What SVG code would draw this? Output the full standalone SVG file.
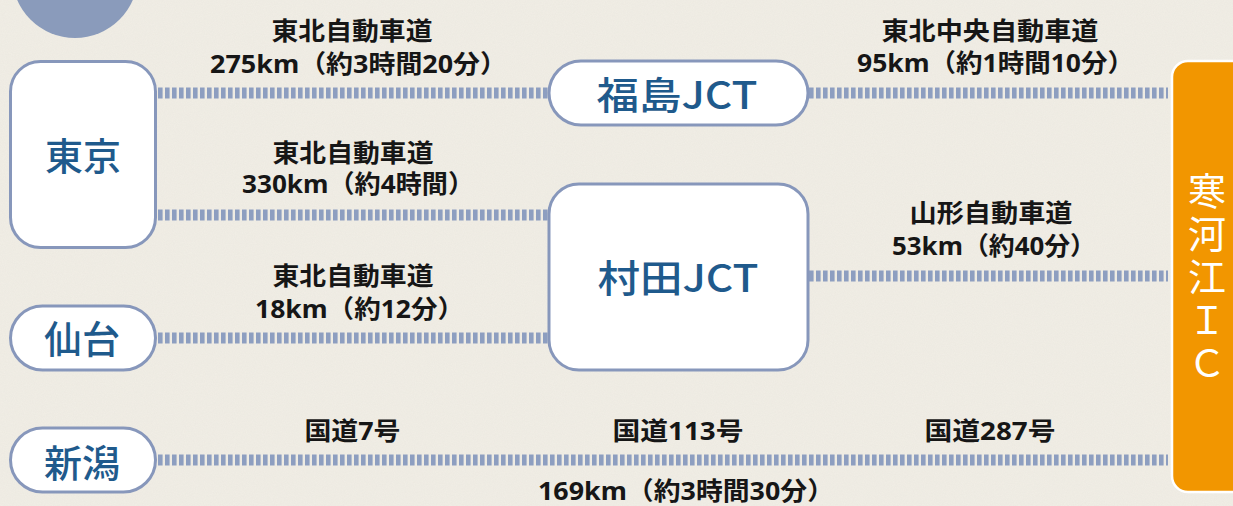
<svg xmlns="http://www.w3.org/2000/svg" width="1233" height="506" viewBox="0 0 1233 506">
  <defs>
    <style>
      .node{fill:#ffffff;stroke:#8797bb;stroke-width:3}
      .ntxt{font-family:"Noto Sans CJK JP","Noto Sans",sans-serif;font-weight:500;font-size:38px;fill:#1f5a8c;text-anchor:middle}
      .road{fill:none;stroke:#8d9ec0;stroke-width:11;stroke-dasharray:4.6 2.4}
      .lbl{font-family:"Noto Sans","Noto Sans CJK JP",sans-serif;font-weight:700;font-size:25px;fill:#161616;text-anchor:middle}
      .ic{font-family:"Noto Sans CJK JP","Liberation Sans",sans-serif;font-weight:400;font-size:38px;fill:#ffffff;writing-mode:vertical-rl;text-orientation:upright;letter-spacing:5px}
    </style>
    <filter id="paper" x="0" y="0" width="100%" height="100%">
      <feTurbulence type="fractalNoise" baseFrequency="0.9" numOctaves="2" seed="3" result="n"/>
      <feColorMatrix type="matrix" values="0 0 0 0 0.55  0 0 0 0 0.52  0 0 0 0 0.45  0 0 0 0.18 0"/>
    </filter>
  </defs>

  <g id="background">
    <rect x="0" y="0" width="1233" height="506" fill="#f1eee6"/>
    <rect x="0" y="0" width="1233" height="506" filter="url(#paper)" opacity="0.6"/>
    <circle cx="75" cy="-25" r="63" fill="#8a9bbb"/>
  </g>

  <g id="connectors">
    <line class="road" x1="158" y1="93" x2="548" y2="93"/>
    <line class="road" x1="809" y1="93" x2="1168" y2="93"/>
    <line class="road" x1="158" y1="215" x2="548" y2="215"/>
    <line class="road" x1="809" y1="276" x2="1168" y2="276"/>
    <line class="road" x1="158" y1="338" x2="548" y2="338"/>
    <line class="road" x1="158" y1="460" x2="1168" y2="460"/>
  </g>

  <g id="labels">
    <text class="lbl" x="352" y="40" textLength="161" lengthAdjust="spacingAndGlyphs">東北自動車道</text>
    <text class="lbl" x="358.5" y="73" textLength="297" lengthAdjust="spacingAndGlyphs">275km（約3時間20分）</text>
    <text class="lbl" x="990" y="40" textLength="217" lengthAdjust="spacingAndGlyphs">東北中央自動車道</text>
    <text class="lbl" x="995.5" y="72" textLength="277" lengthAdjust="spacingAndGlyphs">95km（約1時間10分）</text>
    <text class="lbl" x="353" y="162" textLength="161" lengthAdjust="spacingAndGlyphs">東北自動車道</text>
    <text class="lbl" x="358" y="193" textLength="232" lengthAdjust="spacingAndGlyphs">330km（約4時間）</text>
    <text class="lbl" x="991" y="222" textLength="163" lengthAdjust="spacingAndGlyphs">山形自動車道</text>
    <text class="lbl" x="994" y="255" textLength="204" lengthAdjust="spacingAndGlyphs">53km（約40分）</text>
    <text class="lbl" x="353" y="285" textLength="161" lengthAdjust="spacingAndGlyphs">東北自動車道</text>
    <text class="lbl" x="359.5" y="318" textLength="209" lengthAdjust="spacingAndGlyphs">18km（約12分）</text>
    <text class="lbl" x="352.5" y="440" textLength="96" lengthAdjust="spacingAndGlyphs">国道7号</text>
    <text class="lbl" x="678" y="440" textLength="131" lengthAdjust="spacingAndGlyphs">国道113号</text>
    <text class="lbl" x="990" y="440" textLength="131" lengthAdjust="spacingAndGlyphs">国道287号</text>
    <text class="lbl" x="686" y="500" textLength="296" lengthAdjust="spacingAndGlyphs">169km（約3時間30分）</text>
  </g>

  <g id="node-tokyo">
    <rect class="node" x="10.5" y="61.5" width="145" height="186" rx="30" ry="30"/>
    <text class="ntxt" x="83" y="170">東京</text>
  </g>
  <g id="node-sendai">
    <rect class="node" x="10.5" y="306" width="145" height="64" rx="32" ry="32"/>
    <text class="ntxt" x="82" y="353">仙台</text>
  </g>
  <g id="node-niigata">
    <rect class="node" x="10.5" y="428" width="145" height="64" rx="32" ry="32"/>
    <text class="ntxt" x="82" y="477">新潟</text>
  </g>
  <g id="node-fukushima-jct">
    <rect class="node" x="549" y="61" width="259" height="64" rx="32" ry="32"/>
    <text class="ntxt" x="677" y="109" textLength="161" lengthAdjust="spacingAndGlyphs">福島JCT</text>
  </g>
  <g id="node-murata-jct">
    <rect class="node" x="549" y="184" width="259" height="186" rx="30" ry="30"/>
    <text class="ntxt" x="678" y="292" textLength="161" lengthAdjust="spacingAndGlyphs">村田JCT</text>
  </g>
  <g id="node-sagae-ic">
    <rect x="1172" y="61" width="80" height="431" rx="16" ry="16" fill="#f29600" stroke="#ffffff" stroke-width="2.5"/>
    <text class="ic" x="1207" y="172">寒河江ＩＣ</text>
  </g>
</svg>
